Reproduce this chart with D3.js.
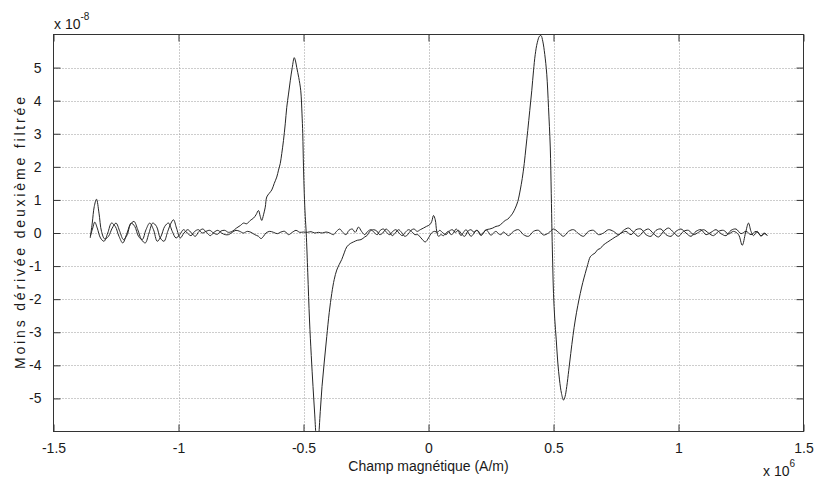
<!DOCTYPE html>
<html><head><meta charset="utf-8">
<script src="https://cdn.jsdelivr.net/npm/d3@7"></script>
<style>
body{margin:0;background:#fff}
text{font-family:"Liberation Sans",Arial,Helvetica,sans-serif;fill:#1a1a1a}
</style>
</head><body>
<svg id="chart" width="818" height="480"></svg>
<script>
// Values: field in units of 1e6 A/m, signal in units of 1e-8
const xTickValues = [-1.5, -1, -0.5, 0, 0.5, 1, 1.5];
const yTickValues = [-5, -4, -3, -2, -1, 0, 1, 2, 3, 4, 5];
const xLabel = "Champ magnétique (A/m)";
const yLabel = "Moins dérivée deuxième filtrée";

const field1 = [-1.353,-1.345,-1.337,-1.328,-1.318,-1.308,-1.295,-1.280,-1.265,-1.250,-1.235,-1.220,-1.205,-1.190,-1.175,-1.160,-1.145,-1.130,-1.115,-1.100,-1.085,-1.070,-1.055,-1.040,-1.025,-1.010,-0.995,-0.980,-0.965,-0.950,-0.935,-0.920,-0.905,-0.890,-0.875,-0.860,-0.845,-0.830,-0.815,-0.800,-0.783,-0.768,-0.752,-0.740,-0.727,-0.713,-0.700,-0.690,-0.680,-0.673,-0.667,-0.660,-0.653,-0.647,-0.637,-0.627,-0.617,-0.607,-0.600,-0.593,-0.587,-0.580,-0.573,-0.567,-0.560,-0.553,-0.545,-0.537,-0.532,-0.527,-0.519,-0.511,-0.506,-0.503,-0.500,-0.497,-0.493,-0.489,-0.483,-0.476,-0.469,-0.462,-0.455,-0.449,-0.444,-0.440,-0.433,-0.426,-0.417,-0.407,-0.397,-0.387,-0.377,-0.367,-0.357,-0.347,-0.337,-0.327,-0.313,-0.300,-0.285,-0.270,-0.255,-0.245,-0.235,-0.220,-0.207,-0.195,-0.183,-0.170,-0.158,-0.145,-0.133,-0.120,-0.108,-0.095,-0.083,-0.070,-0.058,-0.045,-0.033,-0.020,-0.008,0.005,0.013,0.020,0.027,0.033,0.040,0.050,0.060,0.070,0.080,0.090,0.100,0.110,0.120,0.130,0.140,0.150,0.160,0.170,0.180,0.190,0.200,0.210,0.220,0.230,0.240,0.250,0.260,0.270,0.280,0.290,0.30,0.32,0.34,0.36,0.38,0.40,0.42,0.44,0.46,0.48,0.50,0.52,0.54,0.56,0.58,0.60,0.62,0.64,0.66,0.68,0.70,0.72,0.74,0.76,0.78,0.80,0.82,0.84,0.86,0.88,0.90,0.92,0.94,0.96,0.98,1.00,1.02,1.04,1.06,1.08,1.10,1.12,1.14,1.16,1.18,1.20,1.22,1.24,1.255,1.268,1.28,1.29,1.30,1.315,1.33,1.342,1.355];
const signal1 = [-0.15,0.30,0.80,1.02,0.60,0.05,-0.18,-0.10,0.15,0.30,0.05,-0.20,-0.05,0.30,0.20,-0.10,-0.20,0.10,0.30,0.10,-0.25,-0.10,0.20,0.30,0.05,-0.15,-0.05,0.10,0.00,-0.08,0.05,0.10,0.00,0.05,0.08,0.00,-0.04,0.06,0.08,0.02,0.06,0.15,0.23,0.30,0.28,0.38,0.45,0.55,0.68,0.50,0.38,0.55,0.78,1.09,1.20,1.30,1.50,1.69,1.90,2.10,2.40,2.80,3.30,3.80,4.20,4.60,5.00,5.30,5.20,5.00,4.70,4.30,3.60,3.00,2.00,1.20,0.50,-0.02,-1.20,-2.63,-3.70,-4.64,-5.50,-6.20,-6.40,-6.20,-5.40,-4.64,-3.90,-3.13,-2.40,-1.83,-1.40,-1.12,-0.95,-0.80,-0.60,-0.42,-0.32,-0.27,-0.22,-0.20,-0.12,-0.07,0.05,0.10,0.06,-0.05,0.00,0.12,0.05,-0.08,0.00,0.10,0.02,-0.10,-0.05,0.08,0.12,0.05,0.10,0.15,0.20,0.25,0.35,0.53,0.40,0.05,-0.10,-0.05,-0.08,0.00,0.05,-0.05,0.00,0.12,0.05,-0.08,0.02,0.10,0.00,-0.10,-0.03,0.08,0.05,-0.08,0.00,0.10,0.02,-0.07,0.00,0.05,-0.02,-0.05,0.03,-0.08,0.05,0.10,-0.05,-0.10,0.05,0.08,-0.06,0.00,0.12,0.02,-0.10,0.05,0.10,-0.02,-0.10,0.05,0.08,-0.05,0.00,0.10,0.05,-0.05,0.08,0.15,0.02,-0.10,0.05,0.12,-0.02,-0.12,0.05,0.15,0.02,-0.10,0.05,0.08,-0.05,0.02,0.10,0.00,-0.08,0.05,0.08,-0.03,0.05,-0.05,-0.37,0.00,0.30,0.05,-0.08,0.05,-0.10,0.00,-0.07];

const field2 = [-1.353,-1.343,-1.335,-1.325,-1.312,-1.298,-1.283,-1.268,-1.253,-1.238,-1.223,-1.208,-1.193,-1.178,-1.163,-1.148,-1.133,-1.118,-1.103,-1.088,-1.073,-1.058,-1.043,-1.030,-1.020,-1.008,-0.993,-0.978,-0.963,-0.948,-0.933,-0.918,-0.903,-0.888,-0.873,-0.858,-0.843,-0.828,-0.813,-0.800,-0.785,-0.770,-0.755,-0.740,-0.725,-0.710,-0.695,-0.680,-0.670,-0.660,-0.650,-0.635,-0.620,-0.605,-0.590,-0.575,-0.560,-0.545,-0.530,-0.515,-0.500,-0.485,-0.470,-0.455,-0.440,-0.425,-0.410,-0.395,-0.380,-0.368,-0.355,-0.343,-0.330,-0.318,-0.305,-0.293,-0.280,-0.268,-0.255,-0.243,-0.230,-0.218,-0.205,-0.193,-0.180,-0.168,-0.155,-0.143,-0.130,-0.118,-0.105,-0.093,-0.080,-0.068,-0.055,-0.043,-0.030,-0.013,0.000,0.012,0.025,0.035,0.045,0.058,0.070,0.082,0.095,0.107,0.120,0.132,0.145,0.157,0.170,0.182,0.195,0.207,0.220,0.232,0.245,0.257,0.270,0.282,0.295,0.307,0.317,0.327,0.337,0.347,0.357,0.367,0.375,0.383,0.390,0.397,0.405,0.413,0.420,0.427,0.435,0.444,0.450,0.457,0.465,0.473,0.480,0.487,0.491,0.494,0.497,0.500,0.505,0.511,0.517,0.524,0.532,0.540,0.546,0.553,0.561,0.569,0.578,0.587,0.597,0.607,0.617,0.627,0.637,0.647,0.657,0.667,0.677,0.687,0.697,0.707,0.717,0.727,0.737,0.747,0.757,0.767,0.780,0.79,0.81,0.83,0.85,0.87,0.89,0.91,0.93,0.95,0.97,0.99,1.01,1.03,1.05,1.07,1.09,1.11,1.13,1.15,1.17,1.19,1.21,1.23,1.25,1.27,1.29,1.31,1.33,1.345,1.355];
const signal2 = [-0.10,0.15,0.33,0.15,-0.15,-0.25,0.00,0.30,0.20,-0.10,-0.30,-0.05,0.25,0.35,0.10,-0.20,-0.30,0.00,0.30,0.20,-0.15,-0.25,0.05,0.30,0.40,0.15,-0.15,0.00,0.10,0.00,-0.10,0.05,0.12,0.02,-0.08,0.02,0.08,0.00,-0.05,-0.05,0.02,0.08,0.05,0.00,0.05,0.02,-0.05,-0.10,-0.17,-0.10,0.00,0.05,0.02,-0.02,0.03,0.05,-0.05,0.02,0.08,0.02,0.03,0.02,0.04,0.00,0.02,0.00,0.03,0.00,-0.05,0.05,0.12,0.02,-0.05,0.08,0.12,0.02,0.18,0.05,-0.05,0.05,0.10,0.02,-0.05,0.08,0.12,0.02,-0.05,0.05,0.10,0.00,-0.08,0.02,0.10,0.05,-0.05,-0.05,-0.15,-0.27,-0.15,0.00,0.05,0.02,0.08,0.00,-0.05,0.05,0.10,0.02,0.08,-0.03,-0.10,0.05,0.10,0.02,0.08,-0.05,0.02,0.10,0.12,0.15,0.20,0.22,0.30,0.38,0.42,0.50,0.60,0.75,0.95,1.30,1.65,2.10,2.60,3.10,3.70,4.30,4.90,5.40,5.75,5.95,5.97,5.80,5.40,4.80,3.80,2.60,1.20,0.00,-1.00,-1.83,-2.60,-3.23,-3.90,-4.44,-4.85,-5.05,-4.95,-4.64,-4.15,-3.64,-3.10,-2.63,-2.20,-1.83,-1.50,-1.22,-0.95,-0.72,-0.65,-0.60,-0.50,-0.47,-0.38,-0.32,-0.27,-0.22,-0.17,-0.12,-0.08,-0.02,0.03,0.05,-0.05,0.10,0.12,-0.05,-0.10,0.08,0.12,-0.05,-0.10,0.05,0.12,0.00,-0.10,0.05,0.10,-0.05,0.02,0.10,-0.02,-0.08,0.08,0.12,-0.02,0.05,-0.05,0.05,-0.08,-0.02,-0.08];

const W = 818, H = 480;
const plot = {left: 53.5, right: 803.5, top: 34.5, bottom: 431.5};
const svg = d3.select("#chart");
const x = d3.scaleLinear().domain([-1.5, 1.5]).range([plot.left, plot.right]);
const y = d3.scaleLinear().domain([-6, 6]).range([plot.bottom, plot.top]);

// grid
const grid = svg.append("g").attr("stroke", "#9a9a9a").attr("stroke-width", 1).attr("stroke-dasharray", "1,2");
grid.selectAll("line.vx").data(xTickValues.slice(1, -1)).join("line")
  .attr("x1", d => Math.round(x(d)) + 0.5).attr("x2", d => Math.round(x(d)) + 0.5)
  .attr("y1", plot.top).attr("y2", plot.bottom);
grid.selectAll("line.hy").data(yTickValues).join("line")
  .attr("y1", d => Math.round(y(d)) + 0.5).attr("y2", d => Math.round(y(d)) + 0.5)
  .attr("x1", plot.left).attr("x2", plot.right);

// data lines
svg.append("clipPath").attr("id", "clip").append("rect")
  .attr("x", plot.left).attr("y", plot.top)
  .attr("width", plot.right - plot.left).attr("height", plot.bottom - plot.top);
const line = d3.line().x(d => x(d[0])).y(d => y(d[1])).curve(d3.curveCatmullRom.alpha(0.5));
const series = [d3.zip(field1, signal1), d3.zip(field2, signal2)];
svg.append("g").attr("clip-path", "url(#clip)").selectAll("path").data(series).join("path")
  .attr("d", line).attr("fill", "none").attr("stroke", "#262626").attr("stroke-width", 1);

// axes (ticks inward)
const fmt = d => String(d);
const tl = 7;
const axB = svg.append("g").attr("transform", `translate(0,${plot.bottom})`)
  .call(d3.axisBottom(x).tickValues(xTickValues).tickFormat(fmt).tickSizeInner(-tl).tickSizeOuter(0).tickPadding(12));
const axT = svg.append("g").attr("transform", `translate(0,${plot.top})`)
  .call(d3.axisTop(x).tickValues(xTickValues).tickFormat("").tickSizeInner(-tl).tickSizeOuter(0));
const axL = svg.append("g").attr("transform", `translate(${plot.left},0)`)
  .call(d3.axisLeft(y).tickValues(yTickValues).tickFormat(fmt).tickSizeInner(-tl).tickSizeOuter(0).tickPadding(12));
const axR = svg.append("g").attr("transform", `translate(${plot.right},0)`)
  .call(d3.axisRight(y).tickValues(yTickValues).tickFormat("").tickSizeInner(-tl).tickSizeOuter(0));
[axB, axT, axL, axR].forEach(a => {
  a.select(".domain").remove();
  a.selectAll(".tick line").attr("stroke", "#333");
  a.selectAll("text").attr("font-size", 14).attr("fill", "#1a1a1a")
    .attr("font-family", '"Liberation Sans",Arial,sans-serif');
});
// box
svg.append("rect").attr("x", plot.left).attr("y", plot.top)
  .attr("width", plot.right - plot.left).attr("height", plot.bottom - plot.top)
  .attr("fill", "none").attr("stroke", "#333").attr("stroke-width", 1);

// exponent labels
const e1 = svg.append("text").attr("x", 54).attr("y", 29).attr("font-size", 14);
e1.append("tspan").text("x 10");
e1.append("tspan").attr("font-size", 10).attr("dy", -9).text("-8");
const e2 = svg.append("text").attr("x", 763).attr("y", 476).attr("font-size", 14);
e2.append("tspan").text("x 10");
e2.append("tspan").attr("font-size", 10).attr("dy", -9).text("6");

// axis titles
svg.append("text").attr("x", (plot.left + plot.right) / 2).attr("y", 471)
  .attr("text-anchor", "middle").attr("font-size", 14).text(xLabel);
svg.append("text").attr("transform", `translate(25,${(plot.top + plot.bottom) / 2}) rotate(-90)`)
  .attr("text-anchor", "middle").attr("font-size", 14)
  .attr("textLength", 272).attr("lengthAdjust", "spacing").text(yLabel);
</script>
</body></html>
